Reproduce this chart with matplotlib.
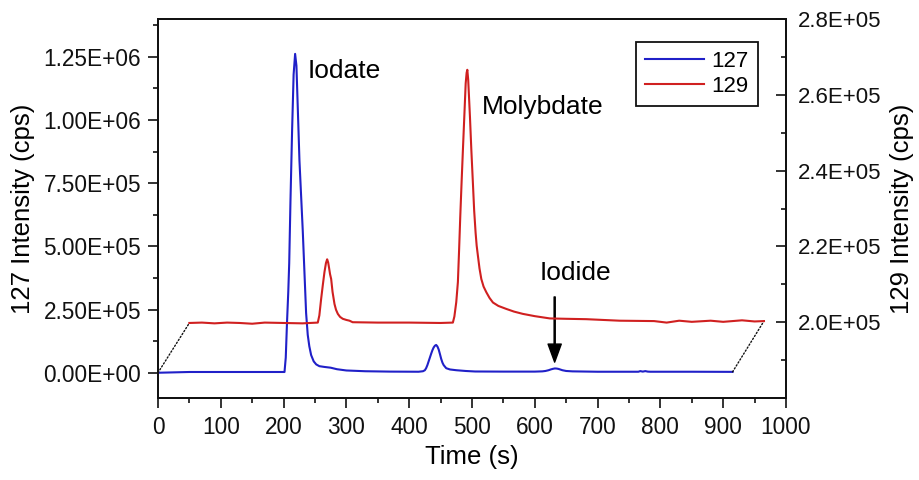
import numpy as np
import matplotlib
matplotlib.use("Agg")
import matplotlib.pyplot as plt
from matplotlib.ticker import FuncFormatter, FixedLocator, MultipleLocator
from matplotlib.patches import ConnectionPatch

plt.rcParams["font.family"] = ["Liberation Sans", "DejaVu Sans"]

BLUE, RED, INK = "#2020c8", "#d02020", "#111111"

# --- 127I trace (time s, cps) ---
t127 = [0, 50, 100, 150, 201.5, 203.5, 205.5, 207.5, 209, 211, 213.6, 216,
        218.4, 220.5, 225.3, 230.6, 235.9, 238.5, 241, 243.9, 248, 252, 257,
        265, 275, 285, 300, 330, 370, 415, 422, 425, 427, 429, 431, 433, 435,
        437, 439, 441, 443, 445, 447, 449, 451, 453, 455, 459, 465, 475, 490,
        505, 550, 600, 612, 617, 622, 626, 629, 632, 635, 638, 644, 650, 660,
        700, 765, 768, 772, 776, 780, 784, 850, 915]
i127 = [0, 3000, 3000, 3000, 3000, 60000, 200000, 320000, 434000, 680000,
        960000, 1180000, 1262000, 1215000, 840000, 560000, 236000, 150000,
        105000, 70000, 45000, 33000, 26000, 23000, 20000, 14000, 9000, 6000,
        4500, 4000, 6000, 10000, 18000, 30000, 45000, 60000, 75000, 89000,
        100000, 107000, 110000, 104000, 92000, 74000, 55000, 40000, 30000,
        18000, 13000, 10000, 7000, 5000, 4500, 4500, 5500, 7000, 10000, 13500,
        15500, 17000, 16500, 15000, 10000, 7000, 5500, 4000, 4000, 6500, 4500,
        6500, 4500, 4000, 4000, 3500]

# --- 129I trace (time s, cps), drawn shifted by 50 s ---
t129 = [0, 20, 40, 60, 80, 100, 120, 150, 180, 204.5, 207, 209.8, 212.5, 215.1,
        217.5, 219.4, 221, 222.5, 224, 225.8, 228, 231.1, 233.5, 236.4, 240,
        244.3, 250, 255, 260, 300, 350, 400, 419.6, 422, 425, 427.6, 429.5,
        431.4, 433.5, 435.6, 438, 440, 441.5, 442.6, 444, 446.8, 449, 451.5,
        453.5, 455.8, 457.5, 459.5, 462, 464.9, 468.5, 472.9, 478, 483.4, 492,
        504.8, 517, 531, 550, 574, 600, 632, 685, 740, 760, 780, 800, 830, 850,
        880, 900, 915]
i129 = [199800, 199900, 199700, 199900, 199800, 199600, 199900, 199800, 199700,
        199900, 201800, 206100, 209800, 213200, 215600, 216600, 215800, 214300,
        212700, 211400, 208000, 204800, 203300, 202200, 201400, 200900, 200600,
        200400, 200000, 199900, 199900, 199800, 199900, 201500, 205300, 210600,
        219000, 228000, 237000, 245500, 255000, 263000, 265800, 266600, 264000,
        254200, 245500, 236700, 229500, 223600, 220200, 217500, 214200, 211400,
        209400, 207900, 206400, 205200, 204300, 203500, 202800, 202200, 201600,
        201000, 200900, 200800, 200400, 200300, 199900, 200400, 200100, 200400,
        200100, 200500, 200200, 200300]
SHIFT = 50

fig = plt.figure(figsize=(9.2, 4.8), dpi=100)
ax = fig.add_axes([0.1717, 0.1708, 0.6826, 0.7896])
ax2 = ax.twinx()

l1, = ax.plot(t127, i127, color=BLUE, lw=1.5, label="127")
l2, = ax2.plot(np.array(t129) + SHIFT, i129, color=RED, lw=1.5, label="129")

ax.set_xlim(0, 1000)
ax.set_ylim(-1e5, 1.4e6)
ax2.set_ylim(1.8e5, 2.8e5)

ax.xaxis.set_major_locator(MultipleLocator(100))
ax.xaxis.set_minor_locator(MultipleLocator(50))
ax.yaxis.set_major_locator(MultipleLocator(2.5e5))
ax.yaxis.set_minor_locator(MultipleLocator(1.25e5))
ax2.yaxis.set_major_locator(FixedLocator([2.0e5, 2.2e5, 2.4e5, 2.6e5, 2.8e5]))
ax2.yaxis.set_minor_locator(FixedLocator([1.9e5, 2.1e5, 2.3e5, 2.5e5, 2.7e5]))
ax.yaxis.set_major_formatter(FuncFormatter(lambda v, p: f"{v:.2E}"))
ax2.yaxis.set_major_formatter(FuncFormatter(lambda v, p: f"{v:.1E}"))

ax.tick_params(axis="both", which="major", direction="out", length=7, width=1.2,
               labelsize=16.3, pad=5, colors=INK)
ax.tick_params(axis="x", which="major", labelsize=16.3, pad=6)
ax.tick_params(axis="both", which="minor", direction="out", length=3.5, width=1.2,
               colors=INK)
ax2.tick_params(axis="y", which="major", direction="in", length=7, width=1.2,
                labelsize=16, pad=8.5, colors=INK)
ax2.tick_params(axis="y", which="minor", direction="in", length=3.5, width=1.2,
                colors=INK)
for a in (ax, ax2):
    for sp in a.spines.values():
        sp.set_linewidth(1.3)
        sp.set_color(INK)

ax.set_xlabel("Time (s)", fontsize=18.5, labelpad=4)
ax.set_ylabel("127 Intensity (cps)", fontsize=18.5, labelpad=6)
ax2.set_ylabel("129 Intensity (cps)", fontsize=18.5, labelpad=6)

# waterfall connectors between the two traces
for k in (0, -1):
    con = ConnectionPatch(xyA=(t127[k], i127[k]), coordsA=ax.transData,
                          xyB=(t129[k] + SHIFT, i129[k]), coordsB=ax2.transData,
                          color=INK, lw=1.0, ls=(0, (1, 1.5)))
    ax2.add_artist(con)

ax.text(238.5, 1.168e6, "Iodate", fontsize=19, ha="left", va="baseline")
ax.text(515, 1.023e6, "Molybdate", fontsize=19, ha="left", va="baseline")
ax.text(608, 0.367e6, "Iodide", fontsize=19, ha="left", va="baseline")
ax.annotate("", xy=(631.7, 4.2e4), xytext=(631.7, 3.0e5),
            arrowprops=dict(facecolor="black", edgecolor="black", width=0.8,
                            headwidth=9.5, headlength=13, shrink=0))

leg = ax2.legend(handles=[l1, l2], loc="upper right", bbox_to_anchor=(0.955, 0.94),
                 borderaxespad=0, fontsize=16, handlelength=2.65, handletextpad=0.35,
                 labelspacing=0.2, borderpad=0.4, fancybox=False, framealpha=1,
                 edgecolor=INK)
leg.get_frame().set_linewidth(1.3)

fig.savefig("out.png", dpi=100)
